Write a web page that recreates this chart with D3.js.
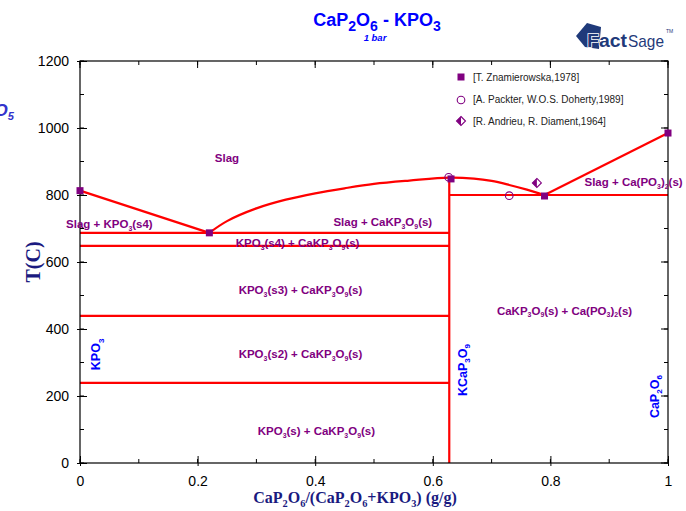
<!DOCTYPE html>
<html>
<head>
<meta charset="utf-8">
<script src="https://cdn.jsdelivr.net/npm/d3@7"></script>
<style>
  body { margin: 0; background: #fff; }
</style>
</head>
<body>
<div id="canvas"></div>
<script>
// phase diagram CaP2O6 - KPO3

const xTicks = [0, 0.2, 0.4, 0.6, 0.8, 1];
const yTicks = [0, 200, 400, 600, 800, 1000, 1200];

const liquidusLeft = [[0, 813], [0.22, 687]];
const liquidusMid = [[0.22, 687], [0.25, 722], [0.30, 760], [0.35, 786], [0.40, 805],
    [0.45, 820], [0.50, 833], [0.56, 843], [0.628, 852], [0.67, 849], [0.70, 842],
    [0.73, 830], [0.76, 816], [0.79, 800]];
const liquidusRight = [[0.79, 800], [1, 985]];

// horizontal invariants: [xStart, xEnd, T]
const isotherms = [[0, 0.628, 687], [0, 0.628, 648], [0, 0.628, 439], [0, 0.628, 239], [0.628, 1, 800]];
const compoundLine = [[0.628, 0], [0.628, 852]];

const znamierowska = [[0, 813], [0.22, 687], [0.631, 848], [0.79, 797], [1, 985]];
const packter = [[0.627, 853], [0.73, 798]];
const andrieu = [[0.777, 836]];

const legendItems = ["[T. Znamierowska,1978]", "[A. Packter, W.O.S. Doherty,1989]", "[R. Andrieu, R. Diament,1964]"];

// region labels: [text, x, T, anchor]
const regionLabels = [
    ["Slag", 0.25, 910, "middle"],
    ["Slag + KPO_3(s4)", 0.05, 714, "middle"],
    ["Slag + CaKP_3O_9(s)", 0.515, 720, "middle"],
    ["KPO_3(s4) + CaKP_3O_9(s)", 0.37, 657, "middle"],
    ["KPO_3(s3) + CaKP_3O_9(s)", 0.375, 515, "middle"],
    ["KPO_3(s2) + CaKP_3O_9(s)", 0.375, 324, "middle"],
    ["KPO_3(s) + CaKP_3O_9(s)", 0.402, 95, "middle"],
    ["CaKP_3O_9(s) + Ca(PO_3)_2(s)", 0.824, 455, "middle"],
    ["Slag + Ca(PO_3)_2(s)", 0.858, 838, "start"]
];
// compound labels (vertical): [text, x, T]
const compoundLabels = [["KPO_3", 0.028, 277], ["KCaP_3O_9", 0.651, 200], ["CaP_2O_6", 0.978, 134]];

const margin = { top: 61, right: 18, bottom: 48, left: 80 },
    width = 686 - margin.left - margin.right,
    height = 511 - margin.top - margin.bottom;

const sans = "Liberation Sans, Arial, sans-serif";
const serif = "Liberation Serif, Times New Roman, serif";

const svg = d3.select("#canvas")
    .append("svg")
    .attr("width", 686)
    .attr("height", 511)
    .style("font-family", sans);

const g = svg.append("g")
    .attr("transform", `translate(${margin.left},${margin.top})`);

const x = d3.scaleLinear().domain([0, 1]).range([0, width]);
const y = d3.scaleLinear().domain([0, 1200]).range([height, 0]);

// write text with "_n" subscripts as tspans
function richText(sel, str, size, subScale = 0.65, drop = 0.25) {
    const parts = str.split(/(_[0-9]+)/).filter(p => p.length);
    let prevSub = false;
    parts.forEach(p => {
        const isSub = p[0] === "_";
        const t = sel.append("tspan").text(isSub ? p.slice(1) : p);
        if (isSub) t.attr("font-size", size * subScale).attr("dy", size * drop);
        else if (prevSub) t.attr("dy", -size * drop);
        prevSub = isSub;
    });
}

// minor ticks
const minorX = d3.range(0, 1.0001, 0.1);
const minorY = d3.range(0, 1201, 100);
g.append("g").selectAll("line").data(minorX).join("line")
    .attr("x1", d => x(d)).attr("x2", d => x(d))
    .attr("y1", height).attr("y2", height - 4).attr("stroke", "#000");
g.append("g").selectAll("line").data(minorX).join("line")
    .attr("x1", d => x(d)).attr("x2", d => x(d))
    .attr("y1", 0).attr("y2", 4).attr("stroke", "#000");
g.append("g").selectAll("line").data(minorY).join("line")
    .attr("x1", 0).attr("x2", 4)
    .attr("y1", d => y(d)).attr("y2", d => y(d)).attr("stroke", "#000");
g.append("g").selectAll("line").data(minorY).join("line")
    .attr("x1", width).attr("x2", width - 4)
    .attr("y1", d => y(d)).attr("y2", d => y(d)).attr("stroke", "#000");

const xAxis = g.append("g")
    .attr("transform", `translate(0,${height})`)
    .call(d3.axisBottom(x).tickValues(xTicks).tickFormat(d3.format("")).tickSizeInner(-7).tickSizeOuter(0).tickPadding(13));
const yAxis = g.append("g")
    .call(d3.axisLeft(y).tickValues(yTicks).tickFormat(d3.format("d")).tickSizeInner(-7).tickSizeOuter(0).tickPadding(11));
[xAxis, yAxis].forEach(a => {
    a.select(".domain").remove();
    a.selectAll("text").attr("font-size", 14).attr("fill", "#000").style("font-family", sans);
});
yAxis.selectAll(".tick line").attr("x1", -3);
xAxis.selectAll(".tick line").attr("y1", 3);
g.append("g").selectAll("line").data(xTicks).join("line")
    .attr("x1", d => x(d)).attr("x2", d => x(d))
    .attr("y1", 0).attr("y2", 7).attr("stroke", "#000");
g.append("g").selectAll("line").data(yTicks).join("line")
    .attr("x1", width).attr("x2", width - 7)
    .attr("y1", d => y(d)).attr("y2", d => y(d)).attr("stroke", "#000");

// lines
const red = "#ff0000";
const line = d3.line().x(d => x(d[0])).y(d => y(d[1]));
const curve = d3.line().x(d => x(d[0])).y(d => y(d[1])).curve(d3.curveCatmullRom);
[liquidusLeft, liquidusRight, compoundLine].forEach(d =>
    g.append("path").datum(d).attr("fill", "none").attr("stroke", red).attr("stroke-width", 2.2).attr("d", line));
g.append("path").datum(liquidusMid).attr("fill", "none").attr("stroke", red).attr("stroke-width", 2.2).attr("d", curve);
g.append("g").selectAll("line").data(isotherms).join("line")
    .attr("x1", d => x(d[0])).attr("x2", d => x(d[1]))
    .attr("y1", d => y(d[2])).attr("y2", d => y(d[2]))
    .attr("stroke", red).attr("stroke-width", 2.2);

// frame
g.append("rect").attr("width", width).attr("height", height)
    .attr("fill", "none").attr("stroke", "#000").attr("stroke-width", 1.2);

// data markers
const purple = "#800080";
g.append("g").selectAll("rect").data(znamierowska).join("rect")
    .attr("x", d => x(d[0]) - 3.5).attr("y", d => y(d[1]) - 3.5)
    .attr("width", 7).attr("height", 7).attr("fill", purple);
g.append("g").selectAll("circle").data(packter).join("circle")
    .attr("cx", d => x(d[0])).attr("cy", d => y(d[1])).attr("r", 3.8)
    .attr("fill", "none").attr("stroke", purple).attr("stroke-width", 1.1);
function diamond(sel, cx, cy) {
    sel.append("path").attr("d", `M${cx},${cy - 4.5}L${cx + 4.5},${cy}L${cx},${cy + 4.5}L${cx - 4.5},${cy}Z`)
        .attr("fill", "#fff").attr("stroke", purple).attr("stroke-width", 1.1);
    sel.append("path").attr("d", `M${cx},${cy - 4.5}L${cx},${cy + 4.5}L${cx - 4.5},${cy}Z`)
        .attr("fill", purple);
}
andrieu.forEach(d => diamond(g, x(d[0]), y(d[1])));

// legend
const lg = svg.append("g").attr("transform", "translate(461,77)");
lg.append("rect").attr("x", -3.5).attr("y", -3.5).attr("width", 7).attr("height", 7).attr("fill", purple);
lg.append("circle").attr("cx", 0).attr("cy", 23).attr("r", 3.8).attr("fill", "none").attr("stroke", purple).attr("stroke-width", 1.1);
diamond(lg, 0, 44);
lg.selectAll("text").data(legendItems).join("text")
    .attr("x", 12).attr("y", (d, i) => i * 22 + 4)
    .attr("font-size", 10).attr("fill", "#222").text(d => d);

// region labels
regionLabels.forEach(d => {
    const t = g.append("text").attr("x", x(d[1])).attr("y", y(d[2]) + 4)
        .attr("text-anchor", d[3])
        .attr("font-size", 11.5).attr("font-weight", "bold").attr("fill", purple);
    richText(t, d[0], 11.5, 0.6);
});

// compound labels
compoundLabels.forEach(d => {
    const t = g.append("text")
        .attr("transform", `translate(${x(d[1]) + 4},${y(d[2])}) rotate(-90)`)
        .attr("font-size", 12.5).attr("font-weight", "bold").attr("fill", "#0000ff");
    richText(t, d[0], 12.5);
});

// titles
const title = svg.append("text").attr("x", 377).attr("y", 26).attr("text-anchor", "middle")
    .attr("font-size", 18).attr("font-weight", "bold").attr("fill", "#0000ff");
richText(title, "CaP_2O_6 - KPO_3", 18, 0.78, 0.3);
svg.append("text").attr("x", 375).attr("y", 41).attr("text-anchor", "middle")
    .attr("font-size", 9.5).attr("font-style", "italic").attr("font-weight", "bold").attr("fill", "#0000ff").text("1 bar");

const p2o5 = svg.append("text").attr("x", 14).attr("y", 116).attr("text-anchor", "end")
    .attr("font-size", 17).attr("font-style", "italic").attr("font-weight", "bold").attr("fill", "#3333cc");
richText(p2o5, "P_2O_5", 17);

svg.append("text").attr("transform", "translate(40,262) rotate(-90)").attr("text-anchor", "middle")
    .style("font-family", serif).attr("font-size", 20)
    .attr("font-weight", "bold").attr("fill", "#1a1a80").text("T(C)");

const xt = svg.append("text").attr("x", 355).attr("y", 503).attr("text-anchor", "middle")
    .style("font-family", serif).attr("font-size", 16)
    .attr("font-weight", "bold").attr("fill", "#1a1a80");
richText(xt, "CaP_2O_6/(CaP_2O_6+KPO_3) (g/g)", 16);

// FactSage logo
const navy = "#1f3a7a";
const logo = svg.append("g").attr("transform", "translate(576,22)");
logo.append("path").attr("d", "M0,14 L11,1 L25,5 L23,27 L9,25 Z").attr("fill", navy);
logo.append("text").attr("x", 11).attr("y", 25).attr("font-size", 18).attr("font-weight", "bold")
    .attr("textLength", 40).attr("lengthAdjust", "spacingAndGlyphs")
    .attr("fill", navy).attr("stroke", "#fff").attr("stroke-width", 1.5).style("paint-order", "stroke")
    .text("Fact");
logo.append("text").attr("x", 52).attr("y", 25).attr("font-size", 17)
    .attr("textLength", 36).attr("lengthAdjust", "spacingAndGlyphs")
    .attr("fill", navy).text("Sage");
logo.append("text").attr("x", 90).attr("y", 11).attr("font-size", 5).attr("fill", navy).text("TM");
</script>
</body>
</html>
